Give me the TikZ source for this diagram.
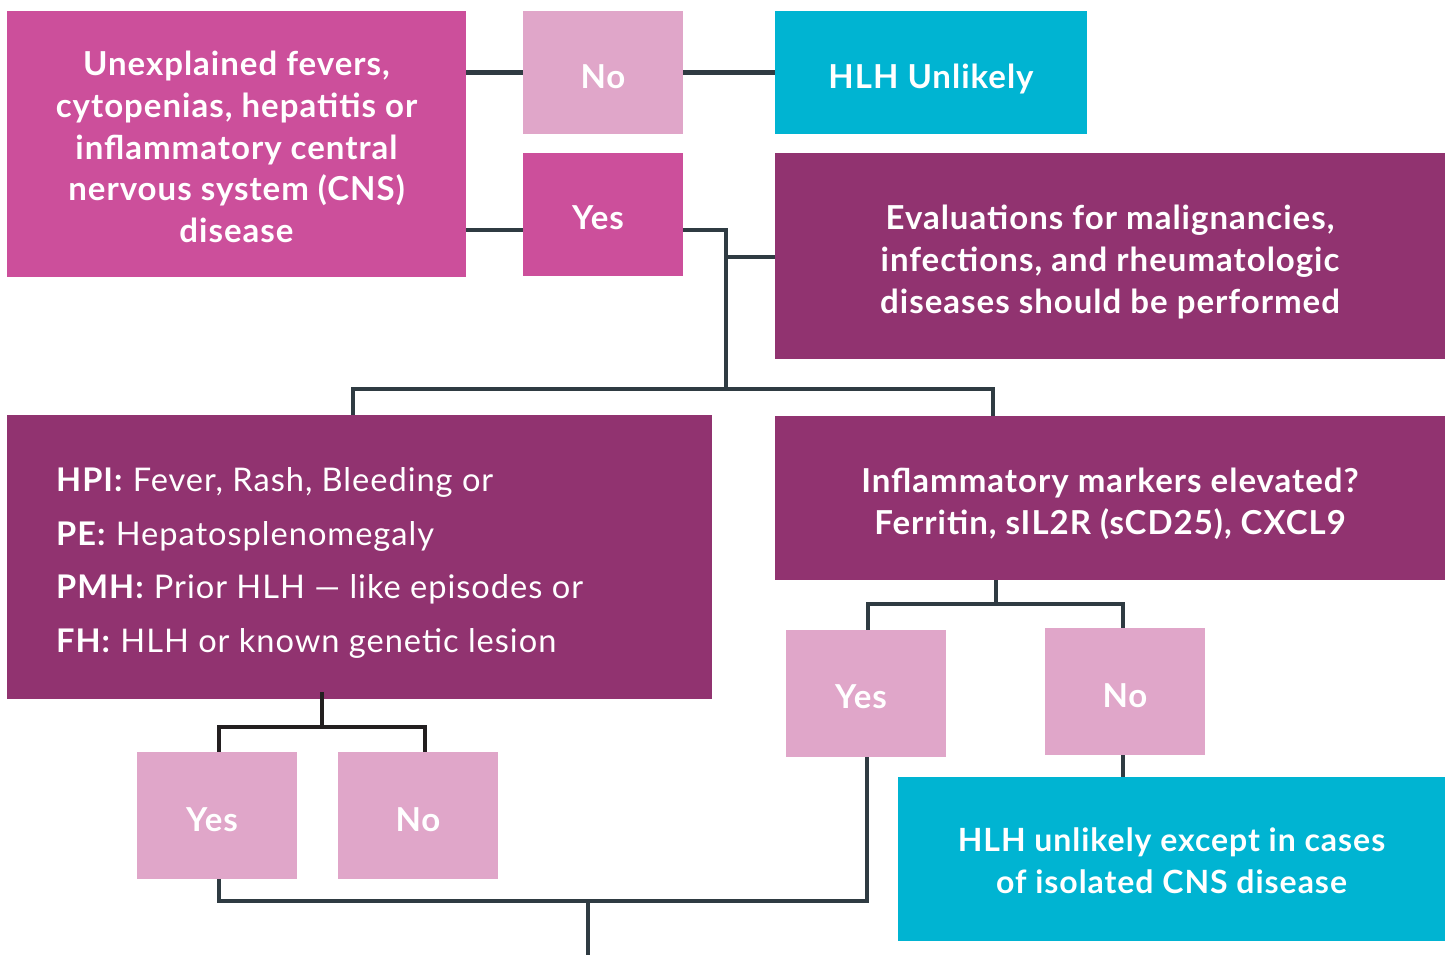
\documentclass[tikz,border=0pt]{standalone}
\usepackage{fontspec}
\setmainfont{Lato}[LetterSpace=3]
\definecolor{mag}{HTML}{CC4F9B}
\definecolor{lpink}{HTML}{E0A6C9}
\definecolor{cyanb}{HTML}{00B4D2}
\definecolor{purp}{HTML}{913370}
\definecolor{linec}{HTML}{2F3B42}
\definecolor{lineb}{HTML}{231F20}
\tikzset{
  box/.style={rectangle, inner sep=0pt},
  txt/.style={inner sep=0pt, text=white, align=center, font=\fontsize{33}{41.7}\selectfont\bfseries},
  conn/.style={draw=linec, line width=4.6pt},
  connb/.style={draw=lineb, line width=4.6pt},
}
\begin{document}
\begin{tikzpicture}[x=1pt,y=-1pt]
\useasboundingbox (0,0) rectangle (1445,955);
% boxes
\node[box, fill=mag, minimum width=459pt, minimum height=266pt] (A) at (236.5,144) {};
\node[box, fill=lpink, minimum width=160pt, minimum height=123pt] (No1) at (603,72.5) {};
\node[box, fill=cyanb, minimum width=312pt, minimum height=123pt] (H1) at (931,72.5) {};
\node[box, fill=mag, minimum width=160pt, minimum height=123pt] (Y1) at (603,214.5) {};
\node[box, fill=purp, minimum width=670pt, minimum height=206pt] (Ev) at (1110,256) {};
\node[box, fill=purp, minimum width=705pt, minimum height=284pt] (HPI) at (359.5,557) {};
\node[box, fill=purp, minimum width=670pt, minimum height=164pt] (In) at (1110,498) {};
\node[box, fill=lpink, minimum width=160pt, minimum height=127pt] (Y2) at (866,693.5) {};
\node[box, fill=lpink, minimum width=160pt, minimum height=127pt] (N2) at (1125,691.5) {};
\node[box, fill=cyanb, minimum width=547pt, minimum height=164pt] (H2) at (1171.5,859) {};
\node[box, fill=lpink, minimum width=160pt, minimum height=127pt] (Y3) at (217,815.5) {};
\node[box, fill=lpink, minimum width=160pt, minimum height=127pt] (N3) at (418,815.5) {};
% texts
\node[txt] (At) at ([yshift=-3pt]A.center) {Unexplained fevers,\\cytopenias, hepatitis or\\inflammatory central\\nervous system (CNS)\\disease};
\node[txt] (No1t) at ([yshift=-4pt]No1.center) {No};
\node[txt] (H1t) at ([yshift=-7pt]H1.center) {HLH Unlikely};
\node[txt] (Y1t) at ([xshift=-5pt,yshift=-3pt]Y1.center) {Yes};
\node[txt] (Evt) at ([yshift=-6pt]Ev.center) {Evaluations for malignancies,\\infections, and rheumatologic\\diseases should be performed};
\node[txt, align=left, anchor=west, font=\fontsize{32.6}{53.7}\selectfont] (HPIt) at ([yshift=-6pt]56,557) {\textbf{HPI:} Fever, Rash, Bleeding or\\\textbf{PE:} Hepatosplenomegaly\\\textbf{PMH:} Prior HLH --- like episodes or\\\textbf{FH:} HLH or known genetic lesion};
\node[txt] (Int) at ([yshift=-5.5pt]In.center) {Inflammatory markers elevated?\\Ferritin, sIL2R (sCD25), CXCL9};
\node[txt] (Y2t) at ([xshift=-5pt,yshift=-3pt]Y2.center) {Yes};
\node[txt] (N2t) at ([yshift=-4pt]N2.center) {No};
\node[txt, font=\fontsize{32}{41.7}\selectfont\bfseries] (H2t) at ([yshift=-1.5pt]H2.center) {HLH unlikely except in cases\\of isolated CNS disease};
\node[txt] (Y3t) at ([xshift=-5pt,yshift=-4pt]Y3.center) {Yes};
\node[txt] (N3t) at ([yshift=-4pt]N3.center) {No};
% junction coordinates
\coordinate (ay) at (0,230);
\coordinate (j1) at (726,230);
\coordinate (j2) at (726,257);
\coordinate (j3) at (726,389);
\coordinate (hl) at (353,389);
\coordinate (hr) at (993,389);
\coordinate (i1) at (996,604);
\coordinate (y1) at (868,604);
\coordinate (n1) at (1123,604);
\coordinate (h1) at (322,727);
\coordinate (yl) at (219,727);
\coordinate (nl) at (425,727);
\coordinate (b1) at (219,901);
\coordinate (b2) at (867,901);
\coordinate (b3) at (588,901);
\coordinate (bend) at (588,955);
% connectors
\draw[conn] (A.east |- No1.west) -- (No1.west);
\draw[conn] (No1.east) -- (H1.west);
\draw[conn] (A.east |- ay) -- (Y1.west |- ay);
\draw[conn] (Y1.east |- j1) -- (j1) -- (j3);
\draw[conn] (j2) -- (Ev.west |- j2);
\draw[conn] (HPI.north -| hl) -- (hl) -- (hr) -- (In.north -| hr);
\draw[conn] (In.south -| i1) -- (i1);
\draw[conn] (Y2.north -| y1) -- (y1) -- (n1) -- (N2.north -| n1);
\draw[conn] (N2.south -| n1) -- (H2.north -| n1);
\draw[connb] ([yshift=7pt]HPI.south -| h1) -- (h1);
\draw[connb] (Y3.north -| yl) -- (yl) -- (nl) -- (N3.north -| nl);
\draw[conn] (Y3.south -| b1) -- (b1) -- (b2) -- (Y2.south -| b2);
\draw[conn] (b3) -- (bend);
\end{tikzpicture}
\end{document}
